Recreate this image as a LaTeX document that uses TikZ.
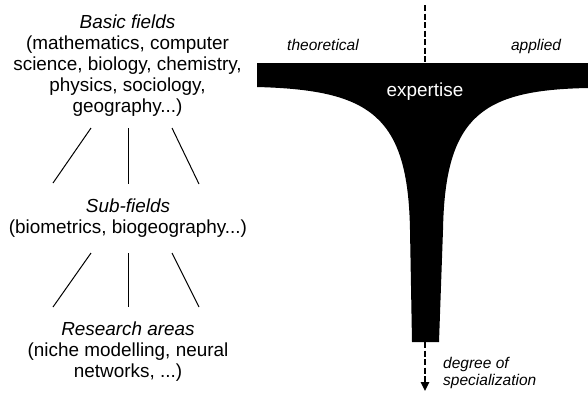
\documentclass[tikz,border=0pt]{standalone}
\usepackage{fontspec}
\setmainfont{Liberation Sans}
\usetikzlibrary{arrows.meta}
\begin{document}
\begin{tikzpicture}[x=1pt,y=-1pt,
  level/.style={align=center,font=\fontsize{18.9}{21}\selectfont,inner sep=0pt,anchor=north},
  axislabel/.style={font=\fontsize{15.5}{17}\selectfont\itshape,inner sep=0pt},
  branch/.style={line width=1pt},
  axisline/.style={line width=1.3pt,dash pattern=on 6pt off 2.5pt}]
\useasboundingbox (0,0) rectangle (588,392);

% hierarchy of fields
\node[level] (basic) at (127.5,15) {\textit{Basic fields}\\(mathematics, computer\\science, biology, chemistry,\\physics, sociology,\\geography...)};
\node[level] (sub) at (128,199) {\textit{Sub-fields}\\(biometrics, biogeography...)};
\node[level] (research) at (128,322) {\textit{Research areas}\\(niche modelling, neural\\networks, ...)};

\draw[branch] ([shift={(-36.5,11)}]basic.south) -- ([shift={(-75,-16)}]sub.north);
\draw[branch] ([shift={(0.5,11)}]basic.south) -- ([shift={(0,-15)}]sub.north);
\draw[branch] ([shift={(44.5,11)}]basic.south) -- ([shift={(71,-15)}]sub.north);

\draw[branch] ([shift={(-37,15)}]sub.south) -- ([shift={(-75,-15)}]research.north);
\draw[branch] ([shift={(0,15)}]sub.south) -- ([shift={(0,-15)}]research.north);
\draw[branch] ([shift={(44,15)}]sub.south) -- ([shift={(71,-15)}]research.north);

% the T-shaped profile of expertise
\fill[black] (257,63) -- (588,63) -- (588,88)
  .. controls (483,90) and (445,115) .. (443,230) -- (439,342) -- (412,342) -- (410,230)
  .. controls (408,115) and (370,90) .. (257,87) -- cycle;

\node[font=\fontsize{18.9}{21}\selectfont,text=white,inner sep=0pt,anchor=base] (expertise) at (425,96) {expertise};

% axes
\coordinate (axistop) at (425,5);
\coordinate (bartop) at (425,63);
\coordinate (stembottom) at (425,342);
\coordinate (axisend) at (425,391);
\draw[axisline] (axistop) -- (bartop);
\draw[axisline,-{Triangle[width=8.5pt,length=9pt]}] (stembottom) -- (axisend);

\node[axislabel,anchor=base] (theoretical) at (323,50) {theoretical};
\node[axislabel,anchor=base] (applied) at (536,50) {applied};
\node[axislabel,anchor=base west,align=left] (degree) at (443,385) {degree of\\specialization};
\end{tikzpicture}
\end{document}
